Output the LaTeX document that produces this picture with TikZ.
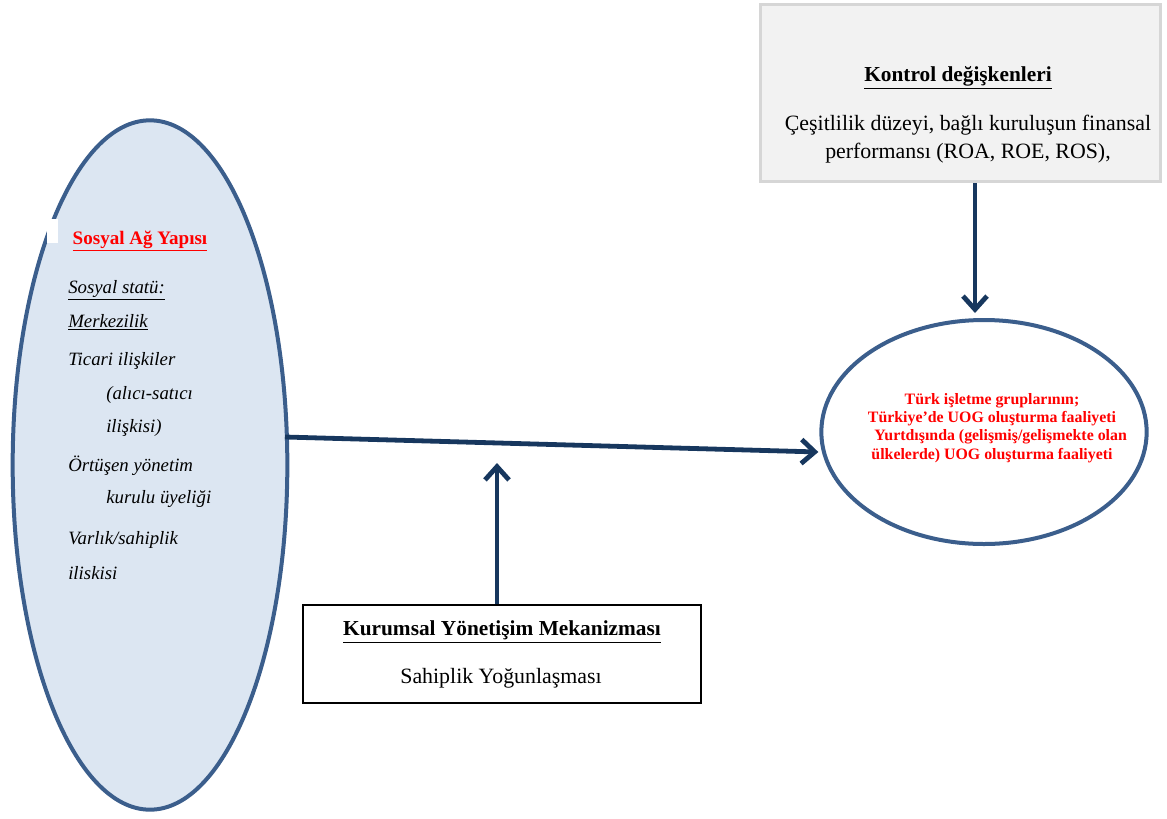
\documentclass[tikz,border=0pt]{standalone}
\usepackage{fontspec}
\setmainfont{Liberation Serif}
\usetikzlibrary{shapes.geometric,arrows.meta,calc}
\definecolor{ringblue}{HTML}{3B5E8C}
\definecolor{paleblue}{HTML}{DCE6F2}
\definecolor{navy}{HTML}{17375E}
\definecolor{boxgray}{HTML}{F2F2F2}
\definecolor{edgegray}{HTML}{D6D6D6}
\definecolor{hired}{HTML}{FF0000}
\tikzset{
  ring/.style={ellipse, draw=ringblue, line width=3pt, inner sep=0pt},
  flow/.style={draw=navy, line width=3.6pt, -{Straight Barb[length=10pt,width=18pt]}},
  itm/.style={anchor=west, inner sep=0pt, font=\fontsize{14.1}{17}\selectfont\itshape},
  ttl/.style={inner sep=0pt, font=\fontsize{16}{19}\selectfont\bfseries},
  bdy/.style={inner sep=0pt, font=\fontsize{16.4}{20.5}\selectfont},
}
\begin{document}
\begin{tikzpicture}[x=0.75pt,y=-0.75pt]
\useasboundingbox (0,0) rectangle (1167,818);

% left ellipse: social network structure
\node[ring, fill=paleblue, minimum width=206pt, minimum height=517pt] (L) at (150,465) {};
\fill[white] (47,219) rectangle (58,243);
\node[inner sep=0pt, text=hired, font=\fontsize{14.3}{17}\selectfont\bfseries] (lt) at (140,241) {\underline{Sosyal Ağ Yapısı}};
\node[itm] (l1) at (68,290) {\underline{Sosyal statü:}};
\node[itm] (l2) at (68,322) {\underline{Merkezilik}};
\node[itm] (l3) at (68,361) {Ticari ilişkiler};
\node[itm] (l4) at (106,395) {(alıcı-satıcı};
\node[itm] (l5) at (106,428) {ilişkisi)};
\node[itm] (l6) at (68,466) {Örtüşen yönetim};
\node[itm] (l7) at (106,499) {kurulu üyeliği};
\node[itm] (l8) at (68,540) {Varlık/sahiplik};
\node[itm] (l9) at (68,573) {iliskisi};

% right ellipse: outcome
\node[ring, fill=white, minimum width=244pt, minimum height=168pt] (R) at (984,432) {};
\node[inner sep=0pt, text=hired, align=center, font=\fontsize{11.9}{13.6}\selectfont\bfseries] (rt) at (992,428)
  {Türk işletme gruplarının;\\Türkiye’de UOG oluşturma faaliyeti\\\hspace*{13pt}Yurtdışında (gelişmiş/gelişmekte olan\\ülkelerde) UOG oluşturma faaliyeti};

% control variables box
\node[draw=edgegray, fill=boxgray, line width=2.2pt, minimum width=300.5pt, minimum height=133pt, inner sep=0pt] (T) at (960.5,93) {};
\node[ttl] (tt) at (958,78) {\underline{Kontrol değişkenleri}};
\node[bdy, align=center] (tb) at (968,139) {Çeşitlilik düzeyi, bağlı kuruluşun finansal\\performansı (ROA, ROE, ROS),};

% corporate governance box
\node[draw=black, fill=white, line width=1.6pt, minimum width=299pt, minimum height=73pt, inner sep=0pt] (B) at (502,654) {};
\node[ttl] (bt) at (502,632) {\underline{Kurumsal Yönetişim Mekanizması}};
\node[bdy] (bb) at (501,678) {Sahiplik Yoğunlaşması};

% connectors
\coordinate (hs) at (285,437);
\coordinate (vt) at (497,463);
\coordinate (tt2) at (975,313);
\draw[flow] (hs) -- ($(R.west)+(-1,20)$);
\draw[flow] (B.north -| vt) -- (vt);
\draw[flow] (T.south -| tt2) -- (tt2);
\end{tikzpicture}
\end{document}
